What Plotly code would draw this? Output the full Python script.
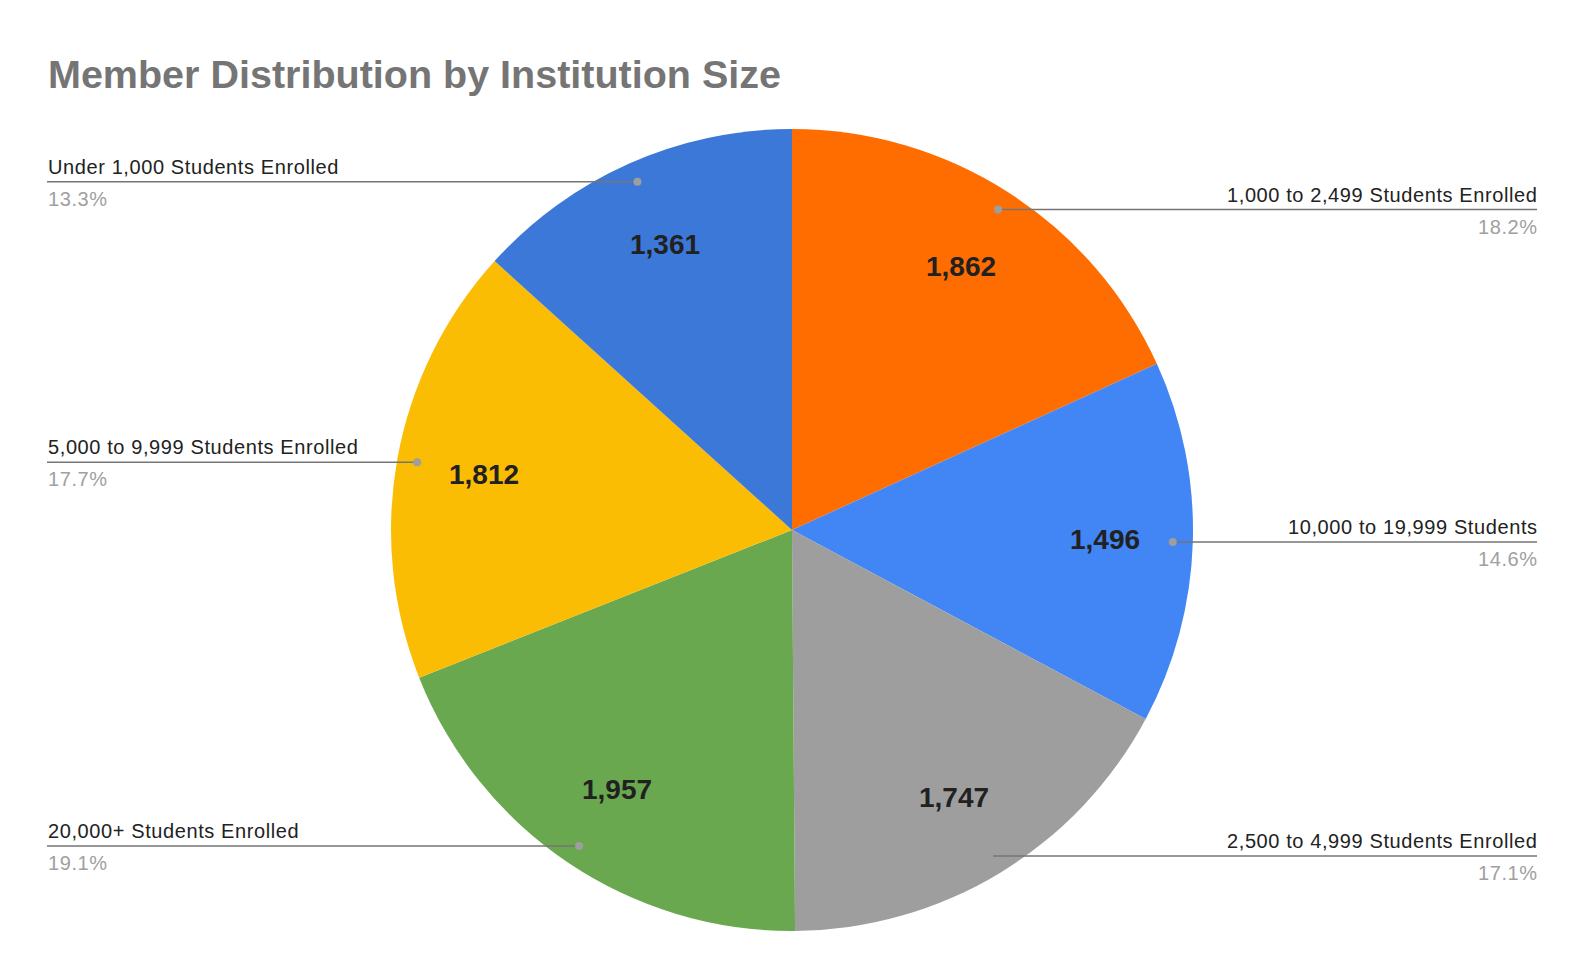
import math
import plotly.graph_objects as go

categories = [
    "1,000 to 2,499 Students Enrolled",
    "10,000 to 19,999 Students",
    "2,500 to 4,999 Students Enrolled",
    "20,000+ Students Enrolled",
    "5,000 to 9,999 Students Enrolled",
    "Under 1,000 Students Enrolled",
]
members = [1862, 1496, 1747, 1957, 1812, 1361]
colors = ["#FF6D01", "#4285F4", "#9E9E9E", "#6AA84F", "#FBBC04", "#3C78D8"]

W, H = 1586, 980
CX, CY, R = 792, 530, 401  # pie centre / radius in pixels
FONT = "Liberation Sans, Arial, sans-serif"
SPACED = "<span style='letter-spacing:0.6px'>{}</span>"

def px(x):
    return x / W

def py(y):
    return 1 - y / H

fig = go.Figure()
fig.add_trace(go.Pie(
    labels=categories,
    values=members,
    sort=False,
    direction="clockwise",
    rotation=0,
    marker=dict(colors=colors, line=dict(width=0)),
    textinfo="none",
    hoverinfo="label+value+percent",
    showlegend=False,
    domain=dict(x=[px(CX - R), px(CX + R)], y=[py(CY + R), py(CY - R)]),
))

total = sum(members)
annotations = []
shapes = []
cum = 0
LEFT_X, RIGHT_X = 47, 1537
for cat, val in zip(categories, members):
    frac = val / total
    mid = (cum + frac / 2) * 2 * math.pi
    cum += frac
    s, c = math.sin(mid), math.cos(mid)
    # value label inside slice
    vx, vy = CX + 0.78 * R * s, CY - 0.78 * R * c
    annotations.append(dict(
        x=px(vx), y=py(vy), xref="paper", yref="paper",
        text=f"<b>{val:,}</b>", showarrow=False,
        font=dict(family=FONT, size=28, color="#212121"),
        xanchor="center", yanchor="middle",
    ))
    # leader dot and line
    dx, dy = CX + 0.95 * R * s, CY - 0.95 * R * c
    right = s > 0
    end_x = RIGHT_X if right else LEFT_X
    shapes.append(dict(
        type="line", xref="paper", yref="paper",
        x0=px(dx), x1=px(end_x), y0=py(dy), y1=py(dy),
        line=dict(color="#757575", width=1.5),
    ))
    shapes.append(dict(
        type="circle", xref="paper", yref="paper",
        xsizemode="pixel", ysizemode="pixel",
        xanchor=px(dx), yanchor=py(dy),
        x0=-4, x1=4, y0=-4, y1=4,
        fillcolor="#9E9E9E", line=dict(width=0),
    ))
    anchor = "right" if right else "left"
    text_x = end_x + 2 if right else end_x
    annotations.append(dict(
        x=px(text_x), y=py(dy - 15), xref="paper", yref="paper",
        text=SPACED.format(cat), showarrow=False,
        font=dict(family=FONT, size=20, color="#222222"),
        xanchor=anchor, yanchor="middle", borderpad=0,
    ))
    annotations.append(dict(
        x=px(text_x), y=py(dy + 17), xref="paper", yref="paper",
        text=SPACED.format(f"{frac * 100:.1f}%"), showarrow=False,
        font=dict(family=FONT, size=20, color="#A0A0A0"),
        xanchor=anchor, yanchor="middle", borderpad=0,
    ))

fig.update_layout(
    width=W, height=H,
    margin=dict(l=0, r=0, t=0, b=0),
    paper_bgcolor="white",
    plot_bgcolor="white",
    title=dict(
        text="<b>Member Distribution by Institution Size</b>",
        x=px(48), y=py(74), xref="paper", yref="paper",
        xanchor="left", yanchor="middle",
        font=dict(family=FONT, size=39.5, color="#757575"),
    ),
    annotations=annotations,
    shapes=shapes,
)

fig.write_html("out.html")
